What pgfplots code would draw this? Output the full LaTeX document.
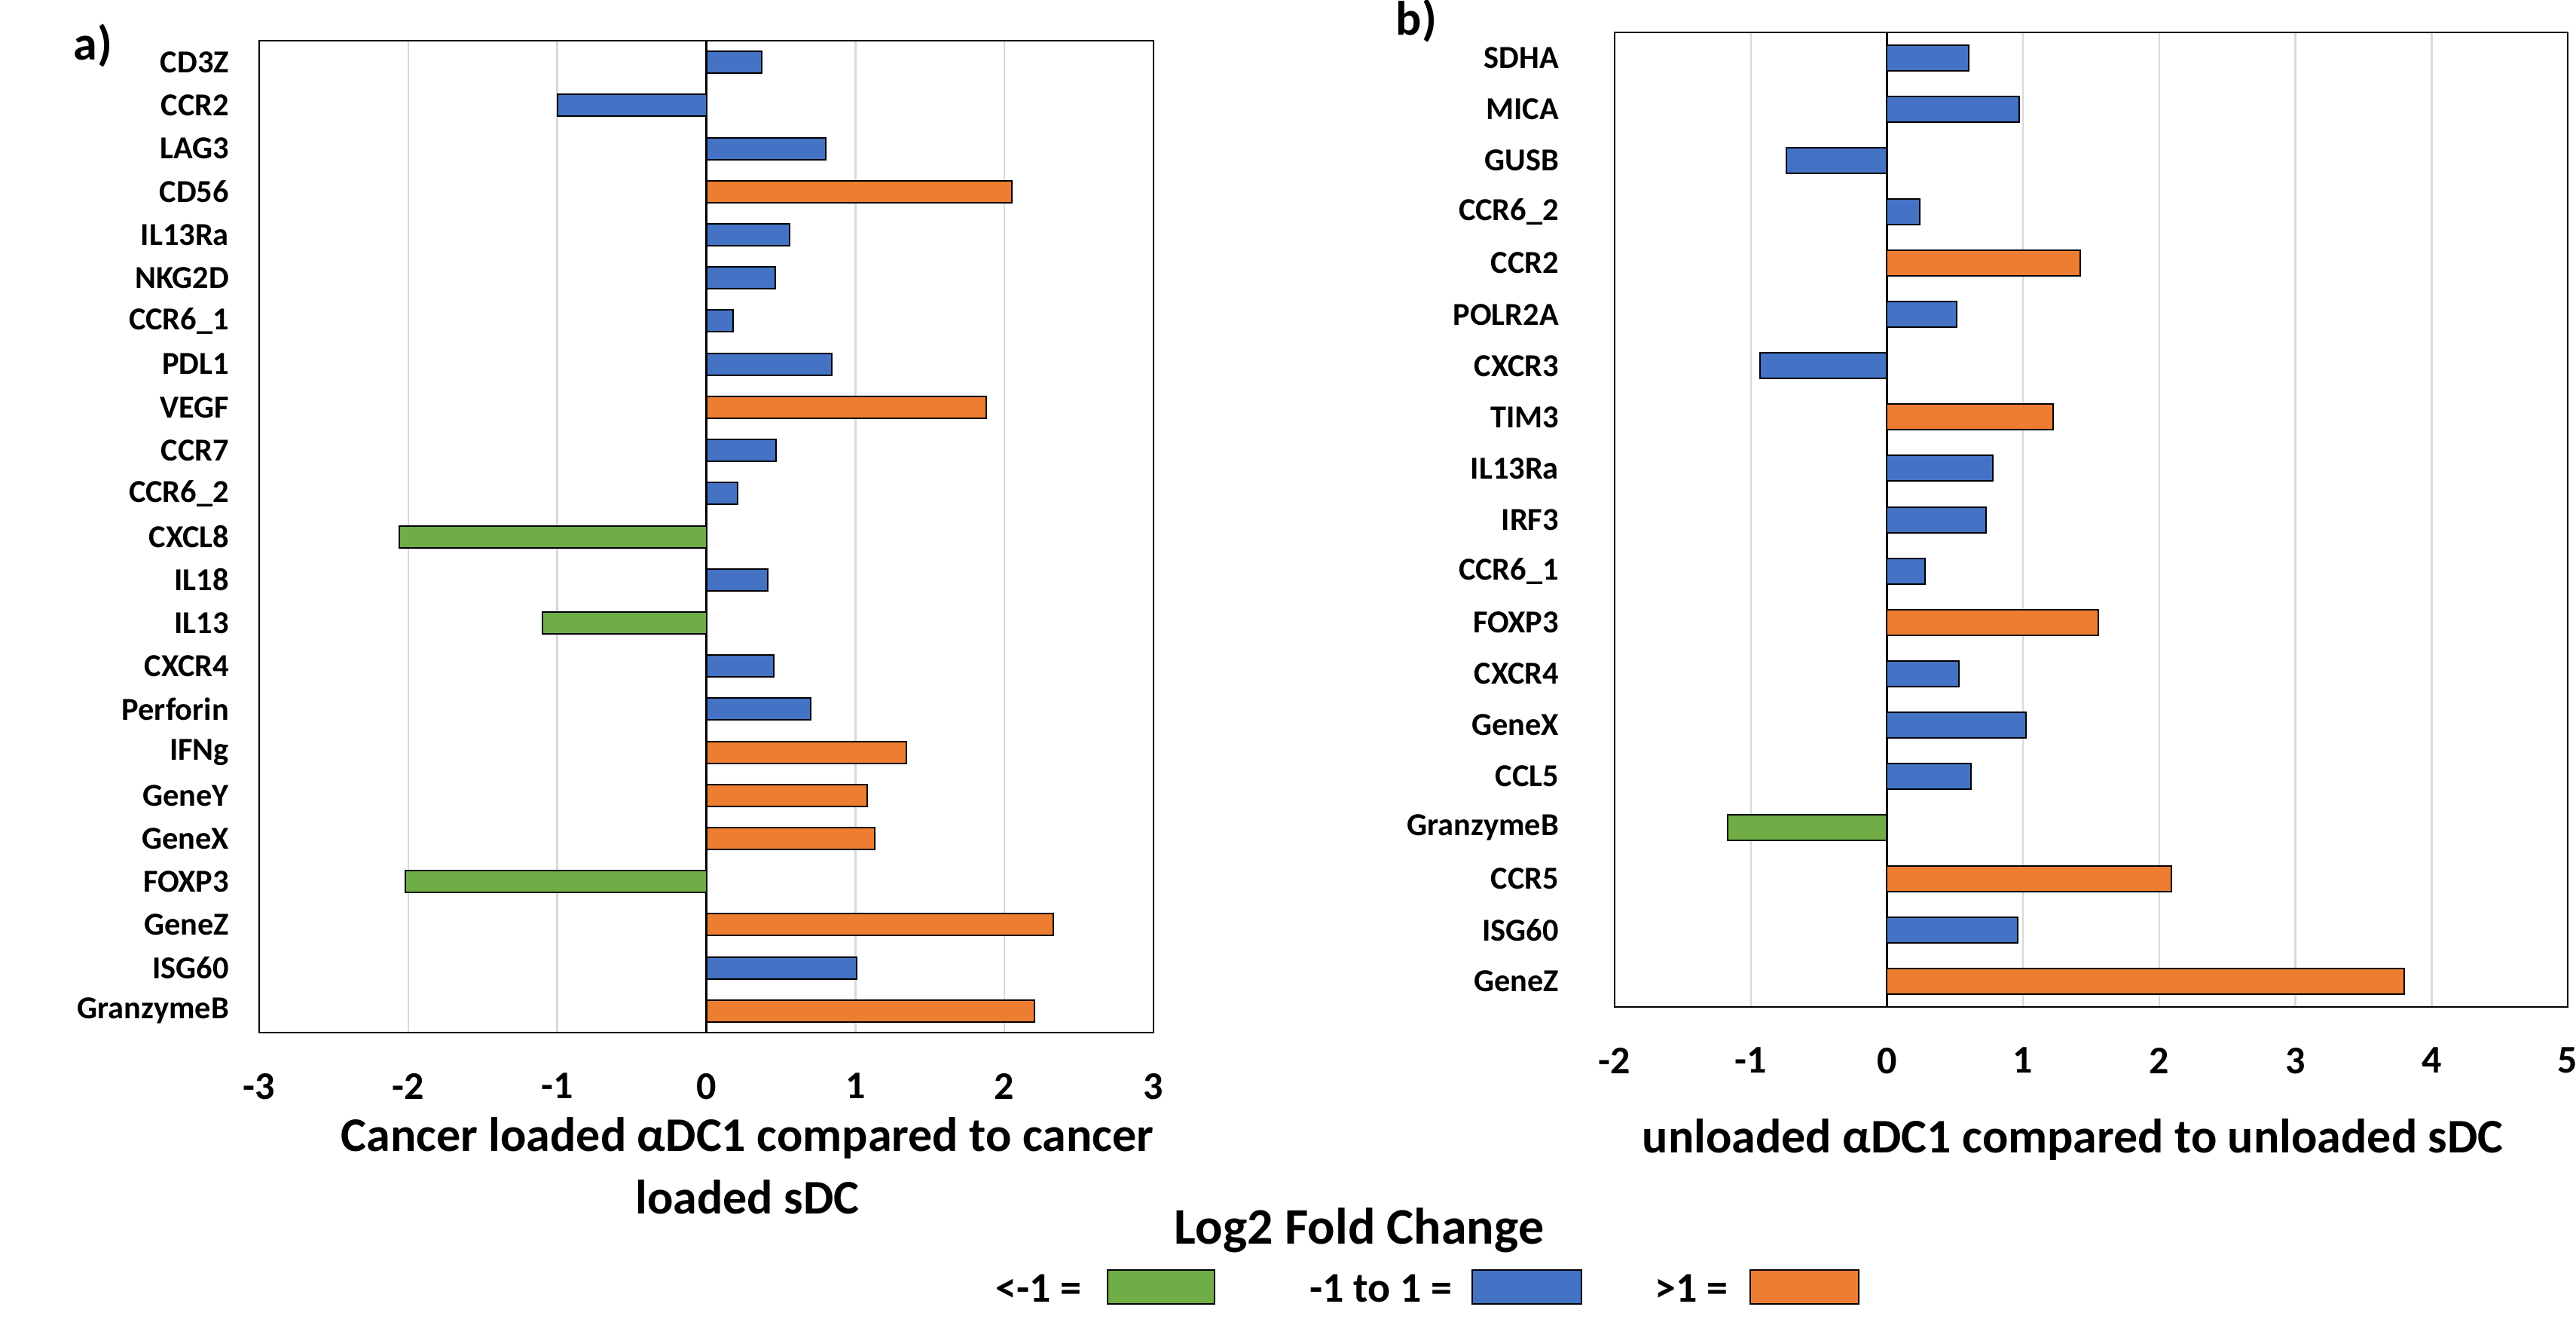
\documentclass[border=0pt]{standalone}
\usepackage{fontspec}
\setmainfont{Carlito}
\usepackage{pgfplots}
\pgfplotsset{compat=1.18}
\definecolor{cgreen}{HTML}{70AD47}
\definecolor{cblue}{HTML}{4472C4}
\definecolor{corange}{HTML}{ED7D31}
\definecolor{cgrid}{HTML}{D9D9D9}
\pgfplotsset{
  panel/.style={
    scale only axis, anchor=south west,
    xbar, bar shift=0pt,
    xmajorgrids, grid style={cgrid, line width=0.6pt},
    major tick length=0pt,
    axis line style={black, line width=0.7pt},
    /pgf/number format/assume math mode=true,
    xticklabel style={font=\bfseries\fontsize{13}{15}\selectfont, yshift=-10pt},
    yticklabel style={font=\bfseries\fontsize{10.6}{12}\selectfont, xshift=-6.5pt},
    every axis plot/.append style={draw=black, line width=0.5pt},
  }
}
\newcommand{\ttl}{\bfseries\fontsize{16}{19}\selectfont}
\begin{document}
\begin{tikzpicture}
\path[use as bounding box] (0,0) rectangle (854.75pt,437.25pt);
% panel a
\begin{axis}[panel,
  at={(86pt,94.75pt)}, width=296.75pt, height=329pt,
  xmin=-3, xmax=3, xtick={-3,...,3},
  ymin=-0.5, ymax=22.5, ytick={0,...,22},
  yticklabels={GranzymeB,ISG60,GeneZ,FOXP3,GeneX,GeneY,IFNg,Perforin,CXCR4,IL13,IL18,CXCL8,CCR6\_2,CCR7,VEGF,PDL1,CCR6\_1,NKG2D,IL13Ra,CD56,LAG3,CCR2,CD3Z},
  bar width=7.25pt]
\draw[black, line width=0.7pt] (axis cs:0,-0.5) -- (axis cs:0,22.5);
\addplot[fill=cgreen] coordinates {(-2.02,3) (-1.10,9) (-2.06,11)};
\addplot[fill=cblue] coordinates {(1.01,1) (0.70,7) (0.45,8) (0.41,10) (0.21,12) (0.47,13) (0.84,15) (0.18,16) (0.46,17) (0.56,18) (0.80,20) (-1.00,21) (0.37,22)};
\addplot[fill=corange] coordinates {(2.20,0) (2.33,2) (1.13,4) (1.08,5) (1.34,6) (1.88,14) (2.05,19)};
\end{axis}
% panel b
\begin{axis}[panel,
  at={(535.75pt,103.25pt)}, width=316.25pt, height=323.25pt,
  xmin=-2, xmax=5, xtick={-2,...,5},
  ymin=-0.5, ymax=18.5, ytick={0,...,18},
  yticklabels={GeneZ,ISG60,CCR5,GranzymeB,CCL5,GeneX,CXCR4,FOXP3,CCR6\_1,IRF3,IL13Ra,TIM3,CXCR3,POLR2A,CCR2,CCR6\_2,GUSB,MICA,SDHA},
  yticklabel style={xshift=-8.5pt},
  bar width=8.5pt]
\draw[black, line width=0.7pt] (axis cs:0,-0.5) -- (axis cs:0,18.5);
\addplot[fill=cgreen] coordinates {(-1.17,3)};
\addplot[fill=cblue] coordinates {(0.96,1) (0.62,4) (1.02,5) (0.53,6) (0.28,8) (0.73,9) (0.78,10) (-0.93,12) (0.51,13) (0.24,15) (-0.74,16) (0.97,17) (0.60,18)};
\addplot[fill=corange] coordinates {(3.80,0) (2.09,2) (1.55,7) (1.22,11) (1.42,14)};
\end{axis}
% titles
\node[anchor=base, font=\ttl] at (248pt,55.4pt) {Cancer loaded αDC1 compared to cancer};
\node[anchor=base, font=\ttl] at (248pt,34.6pt) {loaded sDC};
\node[anchor=base, font=\ttl] at (687.75pt,54.9pt) {unloaded αDC1 compared to unloaded sDC};
\node[anchor=base west, inner sep=0pt, font=\bfseries\fontsize{16}{19}\selectfont] at (24.25pt,417.25pt) {a)};
\node[anchor=base west, inner sep=0pt, font=\bfseries\fontsize{16}{19}\selectfont] at (463pt,425.5pt) {b)};
% legend
\node[anchor=base, font=\bfseries\fontsize{17}{20}\selectfont] at (451pt,24.75pt) {Log2 Fold Change};
\node[anchor=base east, inner sep=0pt, font=\bfseries\fontsize{14}{16}\selectfont] at (359pt,5.5pt) {<-1 =};
\filldraw[fill=cgreen, draw=black, line width=0.6pt] (367.5pt,4.75pt) rectangle (403pt,16pt);
\node[anchor=base east, inner sep=0pt, font=\bfseries\fontsize{14}{16}\selectfont] at (482pt,5.5pt) {-1 to 1 =};
\filldraw[fill=cblue, draw=black, line width=0.6pt] (488.5pt,4.75pt) rectangle (524.75pt,16pt);
\node[anchor=base east, inner sep=0pt, font=\bfseries\fontsize{14}{16}\selectfont] at (573.5pt,5.5pt) {>1 =};
\filldraw[fill=corange, draw=black, line width=0.6pt] (580.75pt,4.75pt) rectangle (616.75pt,16pt);
\end{tikzpicture}
\end{document}
